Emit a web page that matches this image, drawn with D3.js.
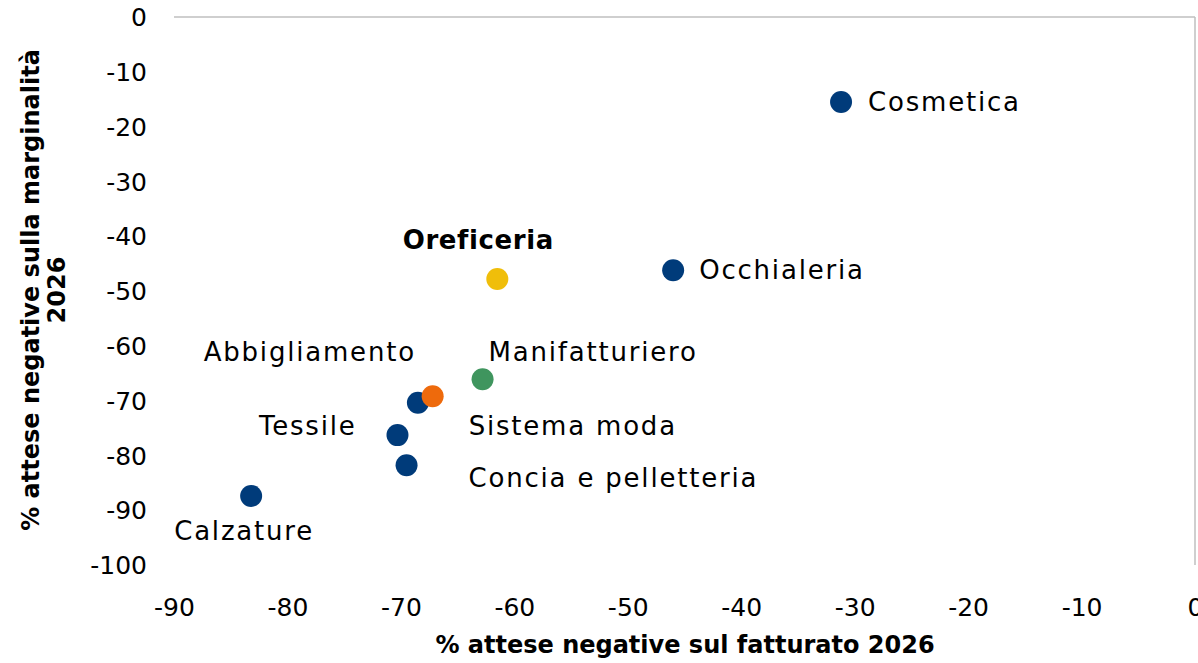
<!DOCTYPE html>
<html>
<head>
<meta charset="utf-8">
<script src="https://cdn.jsdelivr.net/npm/d3@7"></script>
<style>
  body { margin: 0; background: #fff; }
  svg text { font-family: "Century Gothic", "DejaVu Sans", sans-serif; fill: #000; }
</style>
</head>
<body>
<div id="chart"></div>
<script>
// dati: % attese negative su fatturato (x) e marginalità (y), 2026
const settori = ["Cosmetica", "Occhialeria", "Oreficeria", "Manifatturiero", "Abbigliamento",
                 "Sistema moda", "Tessile", "Concia e pelletteria", "Calzature"];
const gruppi = ["settore", "settore", "oro", "manif", "settore", "moda", "settore", "settore", "settore"];
const fatturato = [-31.2, -46.0, -61.5, -62.8, -68.5, -67.2, -70.3, -69.5, -83.2];
const marginalita = [-15.5, -46.2, -47.8, -66.1, -70.4, -69.2, -76.3, -81.8, -87.4];
const xTicks = [-90, -80, -70, -60, -50, -40, -30, -20, -10, 0];
const yTicks = [0, -10, -20, -30, -40, -50, -60, -70, -80, -90, -100];

const colori = { settore: "#003B7A", oro: "#F0BE0A", manif: "#3F955E", moda: "#EE6A0C" };

// posizione delle etichette rispetto al punto
const etichette = {
  "Cosmetica": { dx: 27, dy: 0, anchor: "start" },
  "Occhialeria": { dx: 26, dy: 0, anchor: "start" },
  "Oreficeria": { dx: -19, dy: -39, anchor: "middle", bold: true },
  "Manifatturiero": { dx: 6, dy: -27, anchor: "start" },
  "Abbigliamento": { dx: -2, dy: -51, anchor: "end" },
  "Sistema moda": { dx: 36, dy: 30, anchor: "start" },
  "Tessile": { dx: -41, dy: -9, anchor: "end" },
  "Concia e pelletteria": { dx: 62, dy: 13, anchor: "start" },
  "Calzature": { dx: -7, dy: 35, anchor: "middle" }
};

const data = settori.map((s, i) => ({ nome: s, gruppo: gruppi[i], x: fatturato[i], y: marginalita[i] }));

const W = 1198, H = 663;
const plot = { left: 174, right: 1195, top: 17, bottom: 565 };

const svg = d3.select("#chart").append("svg")
    .attr("width", W)
    .attr("height", H);

const xScale = d3.scaleLinear().domain([-90, 0]).range([plot.left, plot.right]);
const yScale = d3.scaleLinear().domain([0, -100]).range([plot.top, plot.bottom]);

// assi che si incrociano in (0,0): linea orizzontale in alto e verticale a destra
svg.append("line")
    .attr("x1", xScale(-90)).attr("x2", xScale(0))
    .attr("y1", yScale(0)).attr("y2", yScale(0))
    .attr("stroke", "#bfbfbf").attr("stroke-width", 1.5);
svg.append("line")
    .attr("x1", xScale(0)).attr("x2", xScale(0))
    .attr("y1", yScale(0)).attr("y2", yScale(-100))
    .attr("stroke", "#bfbfbf").attr("stroke-width", 1.5);

// etichette tick asse Y (a sinistra)
const yAxis = d3.axisLeft(yScale).tickValues(yTicks).tickSize(0).tickPadding(0).tickFormat(d => String(d));
svg.append("g")
    .attr("transform", `translate(147, 0)`)
    .call(yAxis)
    .call(g => g.select(".domain").remove())
    .call(g => g.selectAll("text").style("font-size", "25px").attr("dy", "0.35em"));

// etichette tick asse X (in basso)
const xAxis = d3.axisBottom(xScale).tickValues(xTicks).tickSize(0).tickPadding(0).tickFormat(d => String(d));
svg.append("g")
    .attr("transform", `translate(0, 607)`)
    .call(xAxis)
    .call(g => g.select(".domain").remove())
    .call(g => g.selectAll("text").style("font-size", "25px").attr("dy", "0.35em"));

// punti
svg.append("g").selectAll("circle")
    .data(data)
    .join("circle")
    .attr("cx", d => xScale(d.x))
    .attr("cy", d => yScale(d.y))
    .attr("r", 11)
    .attr("fill", d => colori[d.gruppo]);

// etichette dei punti
svg.append("g").selectAll("text")
    .data(data)
    .join("text")
    .attr("x", d => xScale(d.x) + etichette[d.nome].dx)
    .attr("y", d => yScale(d.y) + etichette[d.nome].dy)
    .attr("dy", "0.35em")
    .attr("text-anchor", d => etichette[d.nome].anchor)
    .style("font-size", "26px")
    .style("letter-spacing", d => etichette[d.nome].bold ? "0.6px" : "1.8px")
    .style("font-weight", d => etichette[d.nome].bold ? "bold" : "normal")
    .text(d => d.nome);

// titoli degli assi
svg.append("text")
    .attr("x", 685)
    .attr("y", 645)
    .attr("dy", "0.35em")
    .attr("text-anchor", "middle")
    .style("font-size", "24px")
    .style("font-weight", "bold")
    .text("% attese negative sul fatturato 2026");

const yTitle = svg.append("text")
    .attr("transform", "translate(31, 290) rotate(-90)")
    .attr("text-anchor", "middle")
    .style("font-size", "24px")
    .style("font-weight", "bold");
yTitle.append("tspan").attr("x", 0).attr("dy", "0.35em").text("% attese negative sulla marginalità");
yTitle.append("tspan").attr("x", 0).attr("dy", "1.05em").text("2026");
</script>
</body>
</html>
